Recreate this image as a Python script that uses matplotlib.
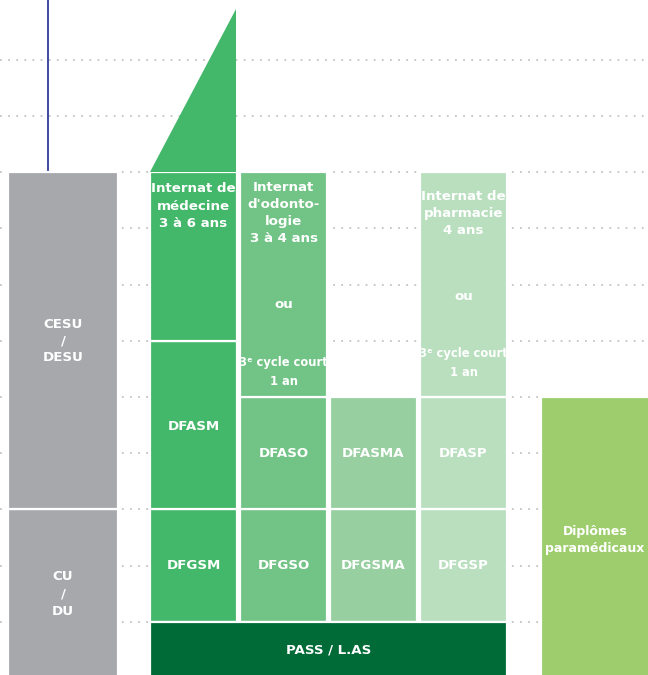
import matplotlib.pyplot as plt

# durations in years (start, end)
grid_years = list(range(1, 12))
cu_span = (0, 3)
cesu_span = (3, 9)
pass_span = (0, 1)
paramed_span = (0, 5)
triangle_top = 11.9

# health columns: (label, start, end) blocks
medecine = [("DFGSM", 1, 3), ("DFASM", 3, 6), ("", 6, 9)]
odonto = [("DFGSO", 1, 3), ("DFASO", 3, 5), ("", 5, 9)]
maieutique = [("DFGSMA", 1, 3), ("DFASMA", 3, 5)]
pharmacie = [("DFGSP", 1, 3), ("DFASP", 3, 5), ("", 5, 9)]

FONT = ['DejaVu Sans Condensed', 'Liberation Sans Narrow', 'DejaVu Sans']
plt.rcParams['font.family'] = FONT

fig = plt.figure(figsize=(6.48, 6.75), dpi=100)
ax = fig.add_axes([0, 0, 1, 1])
ax.set_xlim(0, 648)
ax.set_ylim(0.053, 12.064)
ax.axis('off')

# dotted guide lines
for g in grid_years:
    ax.plot([0, 648], [g, g], color='#c4c4c4', lw=1.3, ls=(0, (1, 3.5)), zorder=1)

# blue line above the grey column
ax.plot([48, 48], [cesu_span[1], 12.1], color='#2b3e9b', lw=1.3, zorder=1)

def block(x0, x1, y0, y1, color):
    ax.bar(x0, y1 - y0, bottom=y0, width=x1 - x0, align='edge', color=color,
           edgecolor='white', linewidth=1.6, zorder=2)

def label(x, y, s, va='center', ls=1.45, size=9.6):
    ax.text(x, y, s, color='white', fontsize=size, fontweight='bold', ha='center',
            va=va, linespacing=ls, zorder=3)

grey = '#a7a8ac'
block(8, 118, cu_span[0] - 1, cu_span[1], grey)
block(8, 118, cesu_span[0], cesu_span[1], grey)
label(63, 1.5, "CU\n/\nDU")
label(63, 6.0, "CESU\n/\nDESU", ls=1.35)

cols = [
    (medecine, 150, 237, '#43b76a'),
    (odonto, 240, 327, '#72c386'),
    (maieutique, 330, 417, '#97cfa0'),
    (pharmacie, 420, 507, '#b9dfbf'),
]
for blocks, x0, x1, c in cols:
    for name, y0, y1 in blocks:
        block(x0, x1, y0, y1, c)
        if name:
            yc = 4.47 if name == "DFASM" else (y0 + y1) / 2
            label((x0 + x1) / 2, yc, name)

# triangle on top of the medicine internship
ax.fill([150, 236.2, 236.2], [9, 9, triangle_top], color='#43b76a', lw=0, zorder=2)

label(193.5, 8.82, "Internat de\nmédecine\n3 à 6 ans", va='top')
label(283.5, 8.85, "Internat\nd'odonto-\nlogie\n3 à 4 ans", va='top', ls=1.4)
label(283.5, 6.64, "ou")
label(283.5, 5.45, "3ᵉ cycle court\n1 an", size=8.3, ls=1.6)
label(463.5, 8.68, "Internat de\npharmacie\n4 ans", va='top', ls=1.4)
label(463.5, 6.78, "ou")
label(463.5, 5.61, "3ᵉ cycle court\n1 an", size=8.3, ls=1.6)

block(150, 507, pass_span[0] - 1, pass_span[1], '#006b36')
label(328.5, 0.5, "PASS / L.AS")

block(541, 650, paramed_span[0] - 1, paramed_span[1], '#9dcd6d')
label(595, 2.46, "Diplômes\nparamédicaux", ls=1.4, size=9.0)

fig.savefig('out.png', dpi=100)
